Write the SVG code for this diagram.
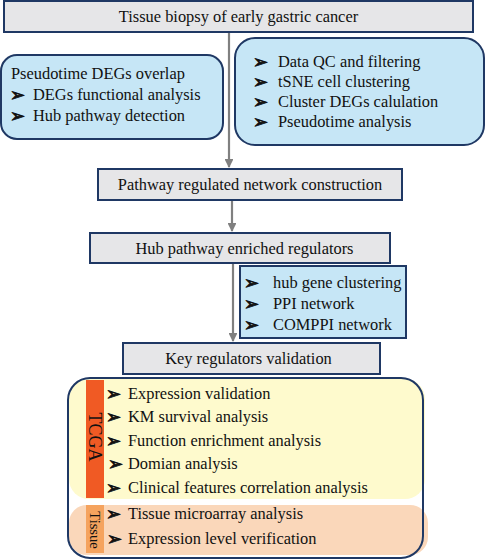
<svg xmlns="http://www.w3.org/2000/svg" width="486" height="560" viewBox="0 0 486 560">
<defs>
<style>
.t{font-family:"Liberation Serif","Times New Roman",serif;font-size:16.4px;fill:#111}
.b{font-family:"DejaVu Sans",sans-serif;font-size:18px;fill:#111;stroke:#111;stroke-width:0.8;stroke-linejoin:round}
.gray{fill:#E6E6E8;stroke:#1F3864;stroke-width:2}
.blue{fill:#C6E6F6;stroke:#1F3864;stroke-width:2}
.conn{stroke:#808080;stroke-width:2.2;fill:none}
</style>
<marker id="ah" viewBox="0 0 10 10" refX="9" refY="5" markerWidth="4" markerHeight="4" orient="auto">
<path d="M0,0 L10,5 L0,10 z" fill="#808080"/>
</marker>
</defs>
<rect width="486" height="560" fill="#fff"/>
<g id="connectors">
<line class="conn" x1="229" y1="33" x2="229" y2="167" marker-end="url(#ah)"/>
<line class="conn" x1="232" y1="201" x2="232" y2="231" marker-end="url(#ah)"/>
<line class="conn" x1="233" y1="264" x2="233" y2="341" marker-end="url(#ah)"/>
</g>
<g id="n-top">
<rect class="gray" x="4" y="1" width="469" height="31"/>
<text class="t" x="238.5" y="22" text-anchor="middle">Tissue biopsy of early gastric cancer</text>
</g>
<g id="n-left">
<rect class="blue" x="1" y="55" width="222" height="84" rx="16"/>
<text class="t" x="11" y="79">Pseudotime DEGs overlap</text>
<text class="b" x="10" y="101">➢</text><text class="t" x="33" y="100">DEGs functional analysis</text>
<text class="b" x="10" y="122">➢</text><text class="t" x="33" y="121">Hub pathway detection</text>
</g>
<g id="n-right">
<rect class="blue" x="235" y="38" width="249" height="107" rx="20"/>
<text class="b" x="253" y="68">➢</text><text class="t" x="278" y="67">Data QC and filtering</text>
<text class="b" x="253" y="88">➢</text><text class="t" x="278" y="87">tSNE cell clustering</text>
<text class="b" x="253" y="108">➢</text><text class="t" x="278" y="107">Cluster DEGs calulation</text>
<text class="b" x="253" y="128">➢</text><text class="t" x="278" y="127">Pseudotime analysis</text>
</g>
<g id="n-pathway">
<rect class="gray" x="98" y="169" width="304" height="31"/>
<text class="t" x="250" y="190" text-anchor="middle">Pathway regulated network construction</text>
</g>
<g id="n-hub">
<rect class="gray" x="90" y="233" width="300" height="30"/>
<text class="t" x="244.5" y="254" text-anchor="middle">Hub pathway enriched regulators</text>
</g>
<g id="n-methods">
<rect class="blue" x="240" y="266" width="166" height="72"/>
<text class="b" x="244" y="289">➢</text><text class="t" x="273" y="288">hub gene clustering</text>
<text class="b" x="244" y="310">➢</text><text class="t" x="273" y="309">PPI network</text>
<text class="b" x="244" y="331">➢</text><text class="t" x="273" y="330">COMPPI network</text>
</g>
<g id="n-key">
<rect class="gray" x="123" y="343" width="257" height="31"/>
<text class="t" x="248.5" y="364" text-anchor="middle">Key regulators validation</text>
</g>
<g id="n-validation">
<rect x="69" y="379" width="356" height="120" rx="20" fill="#FEFACD"/>
<rect x="69" y="505" width="359" height="50" rx="18" fill="#FAD7BA"/>
<rect x="86" y="380" width="18" height="118" fill="#F05A24"/>
<rect x="86" y="505" width="18" height="48" fill="#F5A35E"/>
<text transform="translate(89,437) rotate(90)" style="font-family:'Liberation Serif',serif;font-size:18px;fill:#111" text-anchor="middle">TCGA</text>
<text transform="translate(90,530) rotate(90)" style="font-family:'Liberation Serif',serif;font-size:14.5px;fill:#111" text-anchor="middle">Tissue</text>
<rect x="68" y="378" width="355" height="180" rx="22" fill="none" stroke="#1F3864" stroke-width="2"/>
<text class="b" x="106" y="400">➢</text><text class="t" x="128" y="399">Expression validation</text>
<text class="b" x="106" y="423">➢</text><text class="t" x="128" y="422">KM survival analysis</text>
<text class="b" x="106" y="447">➢</text><text class="t" x="128" y="446">Function enrichment analysis</text>
<text class="b" x="108" y="470">➢</text><text class="t" x="128" y="469">Domian analysis</text>
<text class="b" x="106" y="494">➢</text><text class="t" x="128" y="493">Clinical features correlation analysis</text>
<text class="b" x="106" y="520">➢</text><text class="t" x="128" y="519">Tissue microarray analysis</text>
<text class="b" x="107" y="545">➢</text><text class="t" x="128" y="544">Expression level verification</text>
</g>
</svg>
